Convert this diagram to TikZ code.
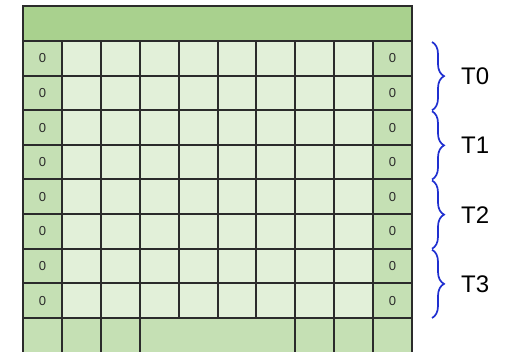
\documentclass[tikz,border=0pt]{standalone}
\usepackage{fontspec}
\setmainfont{Liberation Sans}
\usetikzlibrary{positioning,decorations.pathreplacing}
\definecolor{headgreen}{HTML}{A9D18E}
\definecolor{sidegreen}{HTML}{C5E0B4}
\definecolor{cellgreen}{HTML}{E2F0D9}
\definecolor{gridline}{HTML}{2B2B2B}
\definecolor{braceblue}{HTML}{1F2FD0}

\begin{document}
\begin{tikzpicture}[x=1pt, y=-1pt,
  cell/.style={draw=gridline, line width=2pt, inner sep=0pt, anchor=north west,
    minimum width=38.9pt, minimum height=34.625pt, text=gridline, font=\fontsize{13}{13}\selectfont},
  innercell/.style={cell, fill=cellgreen},
  sidecell/.style={cell, fill=sidegreen},
  brc/.style={decorate, decoration={brace, amplitude=12pt}, draw=braceblue, line width=1.7pt},
  lab/.style={inner sep=0pt, font=\fontsize{24}{26}\selectfont}
]
\useasboundingbox (0,0) rectangle (513,352);

% header band
\node[cell, fill=headgreen, minimum width=389pt, minimum height=35pt] (head) at (22,5) {};

% eight rows of the grid
\foreach \r in {1,...,8} {
  \pgfmathsetmacro\ty{40+34.625*(\r-1)}
  \node[sidecell] (c-\r-1) at (22,\ty) {0};
  \foreach \c in {2,...,9}
    \node[innercell] (c-\r-\c) at ({22+38.9*(\c-1)},\ty) {};
  \node[sidecell] (c-\r-10) at (372.1,\ty) {0};
}

% bottom row
\foreach \c in {1,2,3}
  \node[sidecell, minimum height=38pt] (b-\c) at ({22+38.9*(\c-1)},317) {};
\node[sidecell, minimum width=155.6pt, minimum height=38pt] (b-mid) at (138.7,317) {};
\foreach \c in {8,9,10}
  \node[sidecell, minimum height=38pt] (b-\c) at ({22+38.9*(\c-1)},317) {};

% braces and labels
\foreach \k/\a/\b in {0/1/2, 1/3/4, 2/5/6, 3/7/8} {
  \coordinate (bt-\k) at ([xshift=19pt, yshift=-2pt]c-\a-10.north east);
  \coordinate (bb-\k) at ([xshift=19pt, yshift=1pt]c-\b-10.south east);
  \draw[brc] (bt-\k) -- (bb-\k);
  \path (bt-\k) -- (bb-\k) node[midway, lab, right=29pt] (t-\k) {T\k};
}
\end{tikzpicture}
\end{document}
